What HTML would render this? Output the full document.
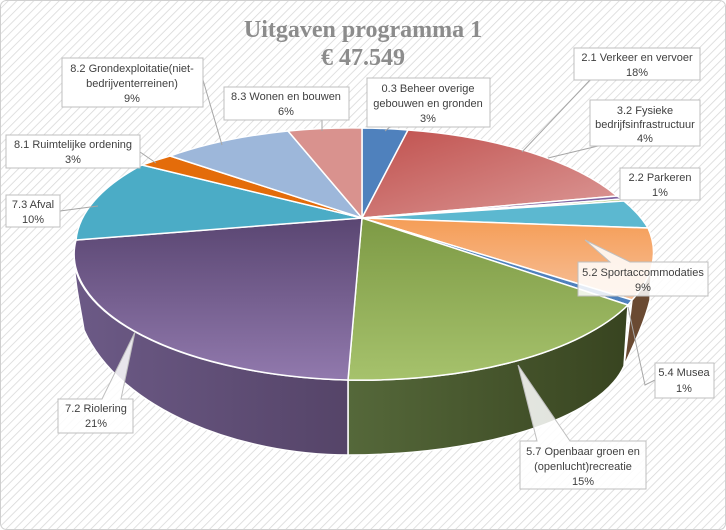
<!DOCTYPE html>
<html><head><meta charset="utf-8"><style>
body{margin:0;background:#fff}
svg{display:block}
text{font-family:"Liberation Sans",sans-serif;font-size:11px;fill:#404040}
</style></head><body>
<svg width="726" height="530" viewBox="0 0 726 530">
<defs>
<pattern id="h" width="6" height="6" patternUnits="userSpaceOnUse" patternTransform="rotate(45)">
<rect width="6" height="6" fill="#fff"/><line x1="0" y1="0" x2="0" y2="6" stroke="#d9d9d9" stroke-width="1.6"/></pattern>
<linearGradient id="gRed" x1="0" y1="0" x2="1" y2="1"><stop offset="0" stop-color="#c0504d"/><stop offset="1" stop-color="#dc9a98"/></linearGradient>
<linearGradient id="gPur" x1="0" y1="0" x2="0" y2="1"><stop offset="0" stop-color="#5a4672"/><stop offset="1" stop-color="#9179ad"/></linearGradient>
<linearGradient id="gGrn" x1="0" y1="0" x2="0" y2="1"><stop offset="0" stop-color="#7d9a45"/><stop offset="1" stop-color="#a6c26c"/></linearGradient>
<linearGradient id="gOr" x1="0" y1="0" x2="0" y2="1"><stop offset="0" stop-color="#f59d56"/><stop offset="1" stop-color="#f7c09a"/></linearGradient>
<linearGradient id="gPurS" x1="0" y1="0" x2="1" y2="0"><stop offset="0" stop-color="#6c5a86"/><stop offset="1" stop-color="#554468"/></linearGradient>
<linearGradient id="gGrnS" x1="0" y1="0" x2="1" y2="0"><stop offset="0" stop-color="#55683a"/><stop offset="1" stop-color="#384420"/></linearGradient>
</defs>
<rect x="0.5" y="0.5" width="725" height="529" rx="6" fill="url(#h)" stroke="#d0d0d0"/>
<text x="363" y="37" text-anchor="middle" style="font-family:'Liberation Serif',serif;font-size:24px;font-weight:bold;fill:#8c8c8c">Uitgaven programma 1</text>
<text x="363" y="65" text-anchor="middle" style="font-family:'Liberation Serif',serif;font-size:24px;font-weight:bold;fill:#8c8c8c">€ 47.549</text>
<g stroke="#fff" stroke-width="1.5">
<path d="M652,254 A290,126 0 0 1 632,300 L624,366 C636,340 645,320 650,300 Z" fill="#6a4a32"/>
<path d="M628,305 A290,126 0 0 1 348,380 L348,455 C480,455 600,420 624,366 Z" fill="url(#gGrnS)"/>
<path d="M348,380 A290,126 0 0 1 74,262 C76,290 80,305 84,330 C120,410 240,455 348,455 Z" fill="url(#gPurS)"/>
<path d="M362,218 L362,128 A290,126 0 0 1 408,130 Z" fill="#4f81bd"/>
<path d="M362,218 L408,130 A290,126 0 0 1 617,196 Z" fill="url(#gRed)"/>
<path d="M362,218 L617,196 A290,126 0 0 1 622,199 Z" fill="#8064a2"/>
<path d="M362,218 L622,199 A290,126 0 0 1 624,201 Z" fill="#9bbb59"/>
<path d="M362,218 L624,201 A290,126 0 0 1 648,228 Z" fill="#5cb8d0"/>
<path d="M362,218 L648,228 A290,126 0 0 1 632,300 Z" fill="url(#gOr)"/>
<path d="M362,218 L632,300 A290,126 0 0 1 628,305 Z" fill="#4f81bd"/>
<path d="M362,218 L628,305 A290,126 0 0 1 348,380 Z" fill="url(#gGrn)"/>
<path d="M362,218 L348,380 A290,126 0 0 1 76,240 Z" fill="url(#gPur)"/>
<path d="M362,218 L76,240 A290,126 0 0 1 142,165 Z" fill="#4bacc6"/>
<path d="M362,218 L142,165 A290,126 0 0 1 170,156 Z" fill="#e46c0a"/>
<path d="M362,218 L170,156 A290,126 0 0 1 288,131 Z" fill="#9db7da"/>
<path d="M362,218 L288,131 A290,126 0 0 1 362,128 Z" fill="#d9928e"/>
</g>
<g stroke="#a6a6a6" fill="none">
<path d="M385,131 L390,127"/>
<path d="M590,80 L522,152"/>
<path d="M598,146 L548,158"/>
<path d="M620,184 L622,198"/>
<path d="M655,380 L645,385 L628,307"/>
<path d="M60,211 L98,206"/>
<path d="M140,152 L156,163"/>
<path d="M203,80 L222,145"/>
<path d="M322,120 L322,131"/>
</g>
<g fill="#fff" stroke="#bfbfbf">
<rect x="367" y="78" width="123" height="49"/>
<rect x="574" y="48" width="126" height="32"/>
<rect x="590" y="100" width="110" height="46"/>
<rect x="620" y="168" width="80" height="32"/>
<rect x="655" y="363" width="59" height="35"/>
<rect x="6" y="195" width="54" height="32"/>
<rect x="6" y="135" width="134" height="33"/>
<rect x="62" y="58" width="141" height="49"/>
<rect x="224" y="87" width="125" height="33"/>
<path d="M578,262 L610,262 L585,240 L630,262 L708,262 L708,296 L578,296 Z" fill-opacity="0.85"/>
<path d="M520,441 L537,441 L518,365 L570,441 L646,441 L646,489 L520,489 Z" fill-opacity="0.85"/>
<path d="M58,399 L102,399 L135,332 L121,399 L133,399 L133,433 L58,433 Z" fill-opacity="0.85"/>
</g>
<g text-anchor="middle">
<text x="428" y="92">0.3 Beheer overige</text><text x="428" y="107">gebouwen en gronden</text><text x="428" y="122">3%</text>
<text x="637" y="61">2.1 Verkeer en vervoer</text><text x="637" y="76">18%</text>
<text x="645" y="114">3.2 Fysieke</text><text x="645" y="128">bedrijfsinfrastructuur</text><text x="645" y="142">4%</text>
<text x="660" y="181">2.2 Parkeren</text><text x="660" y="196">1%</text>
<text x="643" y="276">5.2 Sportaccommodaties</text><text x="643" y="291">9%</text>
<text x="684" y="376">5.4 Musea</text><text x="684" y="392">1%</text>
<text x="583" y="455">5.7 Openbaar groen en</text><text x="583" y="470">(openlucht)recreatie</text><text x="583" y="485">15%</text>
<text x="96" y="412">7.2 Riolering</text><text x="96" y="427">21%</text>
<text x="33" y="208">7.3 Afval</text><text x="33" y="223">10%</text>
<text x="73" y="148">8.1 Ruimtelijke ordening</text><text x="73" y="163">3%</text>
<text x="132" y="72">8.2 Grondexploitatie(niet-</text><text x="132" y="87">bedrijventerreinen)</text><text x="132" y="102">9%</text>
<text x="286" y="100">8.3 Wonen en bouwen</text><text x="286" y="115">6%</text>
</g>
</svg>
</body></html>
